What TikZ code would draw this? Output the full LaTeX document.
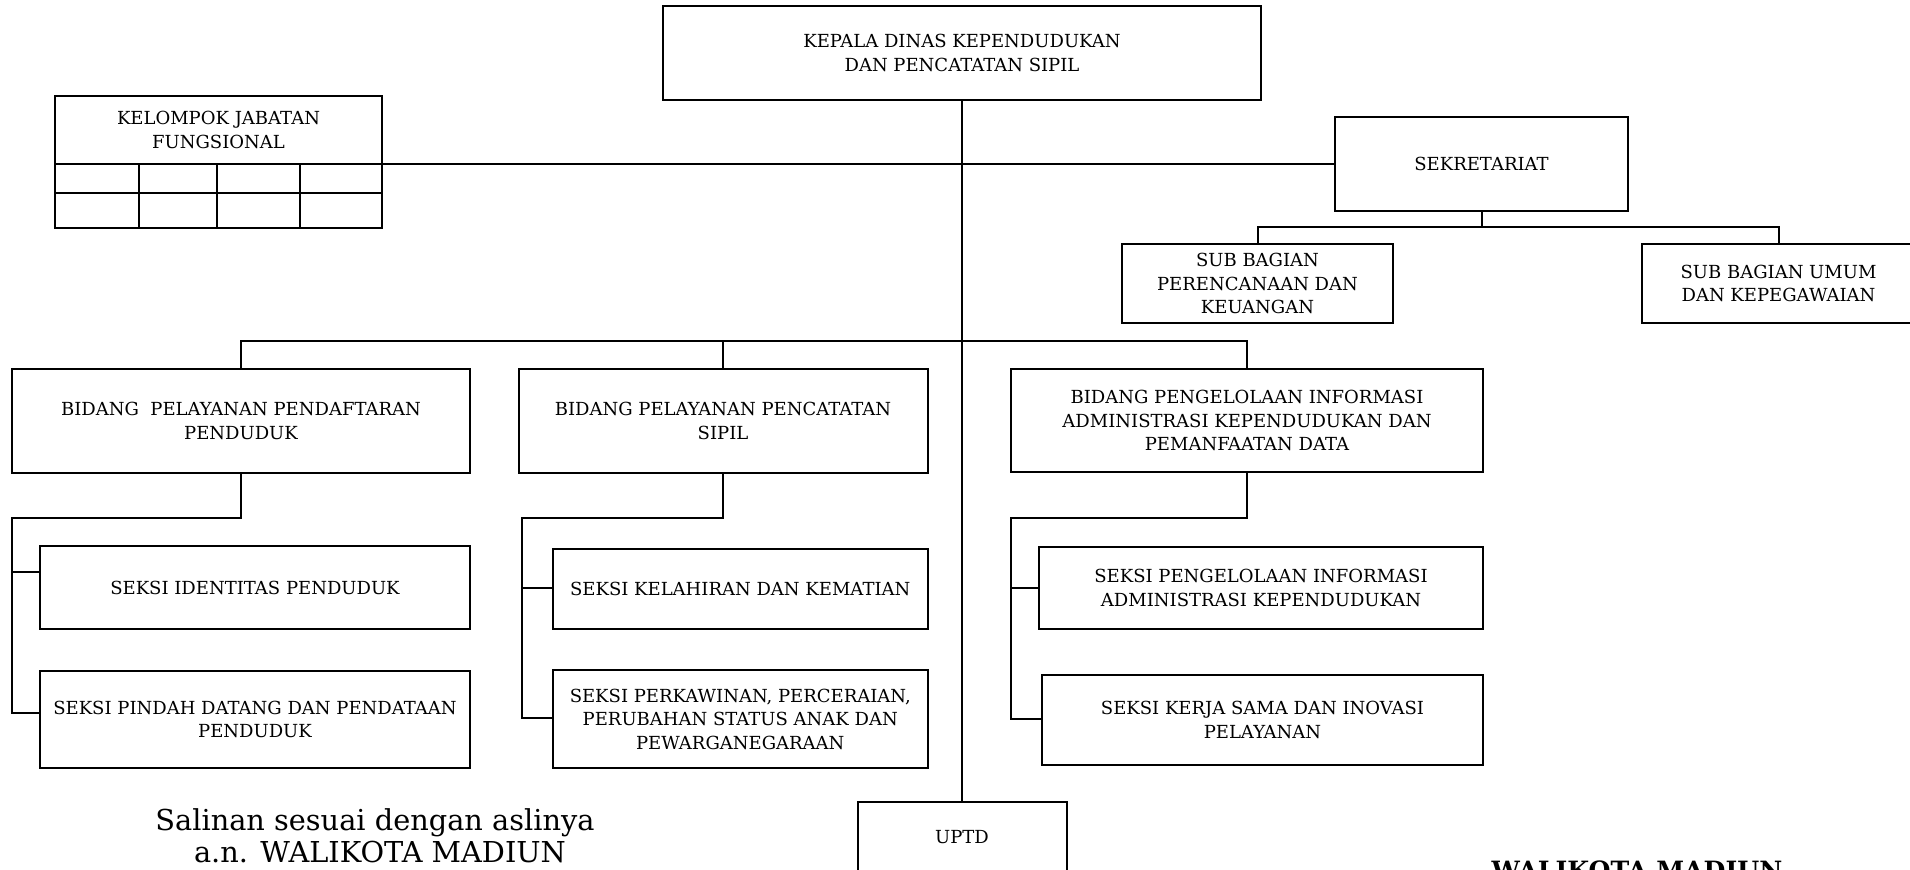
\documentclass[tikz,border=0pt]{standalone}
\usepackage{fontspec}
\setmainfont{DejaVu Serif}
\begin{document}
\begin{tikzpicture}[x=0.5pt,y=-0.5pt,
  box/.style={draw,line width=1pt,align=center,inner sep=1pt,font=\fontsize{9}{11.75}\selectfont},
  link/.style={line width=1pt},
  grid/.style={line width=1pt}]
\useasboundingbox (0,0) rectangle (1910,869);
\fill[white] (0,0) rectangle (1910,869);

% boxes
\node[box,minimum width=299pt,minimum height=47pt] (kepala) at (962,53) {KEPALA DINAS KEPENDUDUKAN\\DAN PENCATATAN SIPIL};
\node[box,minimum width=163.5pt,minimum height=34pt] (kelompok) at (218.5,130) {KELOMPOK JABATAN\\FUNGSIONAL};
\node[box,minimum width=146.5pt,minimum height=47pt] (sekretariat) at (1481.5,164) {SEKRETARIAT};
\node[box,minimum width=135.5pt,minimum height=39.5pt] (subplan) at (1257.5,283.5) {SUB BAGIAN\\PERENCANAAN DAN\\KEUANGAN};
\node[box,minimum width=136.5pt,minimum height=39.5pt] (subumum) at (1778.5,283.5) {SUB BAGIAN UMUM\\DAN KEPEGAWAIAN};
\node[box,minimum width=229pt,minimum height=52pt] (bid1) at (241,421) {BIDANG\ \ PELAYANAN PENDAFTARAN\\PENDUDUK};
\node[box,minimum width=204.5pt,minimum height=52pt] (bid2) at (723,421) {BIDANG PELAYANAN PENCATATAN\\SIPIL};
\node[box,minimum width=236pt,minimum height=51.5pt] (bid3) at (1247,420.5) {BIDANG PENGELOLAAN INFORMASI\\ADMINISTRASI KEPENDUDUKAN DAN\\PEMANFAATAN DATA};
\node[box,minimum width=215pt,minimum height=41.5pt] (sident) at (255,587.5) {SEKSI IDENTITAS PENDUDUK};
\node[box,minimum width=215pt,minimum height=48.5pt] (spindah) at (255,719.5) {SEKSI PINDAH DATANG DAN PENDATAAN\\PENDUDUK};
\node[box,minimum width=187.25pt,minimum height=40pt] (slahir) at (740.25,589) {SEKSI KELAHIRAN DAN KEMATIAN};
\node[box,minimum width=187.25pt,minimum height=49pt] (skawin) at (740.25,719) {SEKSI PERKAWINAN, PERCERAIAN,\\PERUBAHAN STATUS ANAK DAN\\PEWARGANEGARAAN};
\node[box,minimum width=222pt,minimum height=41pt] (skelola) at (1261,588) {SEKSI PENGELOLAAN INFORMASI\\ADMINISTRASI KEPENDUDUKAN};
\node[box,minimum width=220.5pt,minimum height=45pt] (skerja) at (1262.5,720) {SEKSI KERJA SAMA DAN INOVASI\\PELAYANAN};
\node[box,minimum width=104.5pt,minimum height=35pt] (uptd) at (962,837) {UPTD};

% grid under kelompok jabatan fungsional
\draw[grid] (55,164) rectangle (382,228);
\draw[grid] (55,193) -- (382,193);
\draw[grid] (139,164) -- (139,228);
\draw[grid] (217,164) -- (217,228);
\draw[grid] (300,164) -- (300,228);

% main connectors
\draw[link] (kepala.south) -- (uptd.north);
\draw[link] (sekretariat.west) -- (sekretariat.west -| kelompok.east);

\coordinate (sekbar) at (1481.5,227);
\draw[link] (sekretariat.south) -- (sekbar);
\draw[link] (subplan.north) |- (sekbar) -| (subumum.north);

\coordinate (bidbar) at (962,340.5);
\draw[link] (bid1.north) |- (bidbar) -| (bid3.north);
\draw[link] (bid2.north) -- (bid2.north |- bidbar);

% bidang 1
\coordinate (aa) at (12,518);
\coordinate (ab) at (12,712.7);
\coordinate (ac) at (12,572);
\draw[link] (bid1.south) |- (aa) -- (ab) -- (spindah.west |- ab);
\draw[link] (ac) -- (sident.west |- ac);

% bidang 2
\coordinate (ba) at (521.6,518);
\coordinate (bb) at (521.6,718.3);
\coordinate (bc) at (521.6,588.3);
\draw[link] (bid2.south) |- (ba) -- (bb) -- (skawin.west |- bb);
\draw[link] (bc) -- (slahir.west |- bc);

% bidang 3
\coordinate (ca) at (1011,518);
\coordinate (cb) at (1011,719.3);
\coordinate (cc) at (1011,587.5);
\draw[link] (bid3.south) |- (ca) -- (cb) -- (skerja.west |- cb);
\draw[link] (cc) -- (skelola.west |- cc);

% bottom texts
\node[anchor=base,inner sep=0pt,font=\fontsize{14.4}{16}\selectfont] (salin1) at (375,830.7) {Salinan sesuai dengan aslinya};
\node[anchor=base,inner sep=0pt,font=\fontsize{14.4}{16}\selectfont] (salin2) at (380,862.7) {a.n. WALIKOTA MADIUN};
\node[anchor=base,inner sep=0pt,font=\fontsize{12.6}{15}\selectfont\bfseries] (walikota) at (1637,879) {WALIKOTA MADIUN};
\end{tikzpicture}
\end{document}
